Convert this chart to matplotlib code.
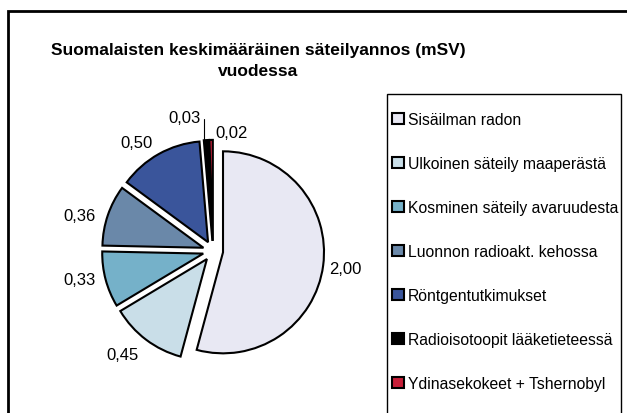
import numpy as np
import matplotlib
matplotlib.use("Agg")
import matplotlib.pyplot as plt
from matplotlib.patches import Rectangle, Patch

plt.rcParams['font.family'] = ['Liberation Sans', 'DejaVu Sans']

categories = ["Sisäilman radon", "Ulkoinen säteily maaperästä",
              "Kosminen säteily avaruudesta", "Luonnon radioakt. kehossa",
              "Röntgentutkimukset", "Radioisotoopit lääketieteessä",
              "Ydinasekokeet + Tshernobyl"]
values = [2.00, 0.45, 0.33, 0.36, 0.50, 0.03, 0.02]
colors = ["#E8E8F3", "#C9DEE8", "#75B1C9", "#6A88A9", "#3A559B", "#000000", "#C8203A"]
title = "Suomalaisten keskimääräinen säteilyannos (mSV)\nvuodessa"

W, H = 627, 414
fig = plt.figure(figsize=(W / 100, H / 100), dpi=100)

# outer frame (runs off the right/bottom edge like the original)
fig.patches.append(Rectangle((8 / W, -0.05), 1.2, 1 - 12 / H + 0.05,
                             transform=fig.transFigure, fill=False,
                             edgecolor="black", linewidth=2))

fig.text(258 / W, 1 - 61 / H, title, ha="center", va="center",
         fontsize=12.5, fontweight="bold", linespacing=1.5)

# pie axes: radius 1 -> ~101 px
cx, cy, r = 213, 252, 101
half = 1.5 * r
ax = fig.add_axes([(cx - half) / W, (H - cy - half) / H, 2 * half / W, 2 * half / H])

wedges, _ = ax.pie(values, colors=colors, startangle=90, counterclock=False,
                   explode=[0.1] * len(values), radius=1,
                   wedgeprops=dict(edgecolor="black", linewidth=1.5))
ax.set_xlim(-1.5, 1.5)
ax.set_ylim(-1.5, 1.5)
ax.axis("off")

# small per-label angle nudges (degrees) and distances
nudge = {1: -4, 2: -3, 3: 4, 4: 6}
dist = {0: 1.32, 1: 1.36, 2: 1.35, 3: 1.37, 4: 1.32}

for i, (w, v) in enumerate(zip(wedges, values)):
    ang = np.deg2rad((w.theta1 + w.theta2) / 2)
    txt = f"{v:.2f}".replace(".", ",")
    if i == 5:
        ax.annotate(txt, xy=(1.1 * np.cos(ang) - 0.02, 1.1 * np.sin(ang)),
                    xytext=(-14, 11), textcoords="offset points",
                    ha="center", va="bottom", fontsize=12,
                    arrowprops=dict(arrowstyle="-", color="black", lw=0.8,
                                    shrinkA=1, shrinkB=0,
                                    connectionstyle="angle,angleA=0,angleB=90,rad=0"))
    elif i == 6:
        ax.text(1.12 * np.cos(ang) + 0.2, 1.12 * np.sin(ang) + 0.05, txt,
                ha="center", va="center", fontsize=12)
    else:
        a = ang + np.deg2rad(nudge.get(i, 0))
        d = dist[i]
        ax.text(d * np.cos(a), d * np.sin(a), txt,
                ha="center", va="center", fontsize=12)

# legend box
lx0, ly0, lx1, ly1 = 387, 95, 621, 430
fig.patches.append(Rectangle((lx0 / W, 1 - ly1 / H), (lx1 - lx0) / W, (ly1 - ly0) / H,
                             transform=fig.transFigure, fill=False,
                             edgecolor="black", linewidth=1))
handles = [Patch(facecolor=c, edgecolor="black", linewidth=1.5) for c in colors]
fig.legend(handles, categories, loc="upper left",
           bbox_to_anchor=(392 / W, 1 - 113 / H), frameon=False,
           fontsize=11.3, handlelength=0.75, handleheight=0.75, handletextpad=0.25,
           labelspacing=1.85, borderpad=0, borderaxespad=0)

fig.savefig("out.png", dpi=100)
